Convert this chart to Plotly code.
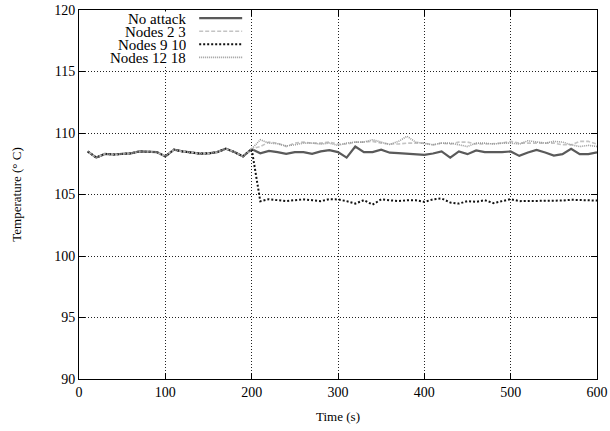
import plotly.graph_objects as go

time_s = list(range(10, 610, 10))

no_attack = [108.5, 108.0, 108.3, 108.25, 108.3, 108.35, 108.5, 108.5, 108.45, 108.1,
             108.65, 108.5, 108.4, 108.33, 108.35, 108.45, 108.72, 108.45, 108.1, 108.7,
             108.35, 108.55, 108.45, 108.3, 108.45, 108.45, 108.3, 108.5, 108.6, 108.45,
             108.0, 108.9, 108.45, 108.45, 108.65, 108.4, 108.36, 108.31, 108.28, 108.22,
             108.33, 108.5, 108.0, 108.5, 108.28, 108.58, 108.44, 108.42, 108.44, 108.5,
             108.14, 108.42, 108.63, 108.42, 108.17, 108.28, 108.72, 108.28, 108.28, 108.42]

nodes_2_3 = [108.5, 108.0, 108.3, 108.25, 108.3, 108.35, 108.5, 108.5, 108.45, 108.1,
             108.65, 108.5, 108.4, 108.33, 108.35, 108.45, 108.72, 108.45, 108.1, 108.7,
             108.9, 109.26, 109.18, 108.9, 109.18, 109.26, 109.18, 109.18, 109.26, 109.1,
             109.1, 109.26, 109.26, 109.32, 109.18, 109.1, 109.1, 109.18, 109.18, 109.18,
             109.04, 109.18, 109.1, 109.26, 109.26, 109.1, 109.1, 109.14, 109.18, 109.32,
             109.18, 109.18, 109.18, 109.18, 109.18, 109.04, 109.04, 109.32, 109.32, 109.1]

nodes_9_10 = [108.5, 108.0, 108.3, 108.25, 108.3, 108.35, 108.5, 108.5, 108.45, 108.1,
              108.65, 108.5, 108.4, 108.33, 108.35, 108.45, 108.72, 108.45, 108.1, 108.7,
              104.45, 104.62, 104.54, 104.46, 104.54, 104.6, 104.54, 104.46, 104.62, 104.6,
              104.46, 104.26, 104.54, 104.18, 104.6, 104.54, 104.46, 104.54, 104.54, 104.4,
              104.6, 104.68, 104.35, 104.26, 104.46, 104.4, 104.54, 104.3, 104.46, 104.62,
              104.46, 104.46, 104.46, 104.46, 104.46, 104.51, 104.57, 104.54, 104.51, 104.51]

nodes_12_18 = [108.5, 108.0, 108.3, 108.25, 108.3, 108.35, 108.5, 108.5, 108.45, 108.1,
               108.65, 108.5, 108.4, 108.33, 108.35, 108.45, 108.72, 108.45, 108.1, 108.7,
               109.45, 109.18, 109.13, 108.95, 109.04, 109.18, 109.18, 109.1, 109.18, 108.99,
               109.18, 109.26, 109.26, 109.45, 109.26, 109.07, 109.32, 109.73, 109.26, 109.18,
               109.04, 109.18, 109.18, 109.04, 108.9, 109.18, 109.18, 109.1, 109.18, 109.18,
               109.1, 109.37, 109.26, 109.18, 109.32, 109.26, 109.04, 108.9, 108.99, 108.9]

legend_labels = ["No attack", "Nodes 2 3", "Nodes 9 10", "Nodes 12 18"]
x_ticks = [0, 100, 200, 300, 400, 500, 600]
y_ticks = [90, 95, 100, 105, 110, 115, 120]

styles = [
    dict(color="#5a5a5a", width=2.2, dash="solid"),
    dict(color="#c4c4c4", width=1.6, dash="4px,2px"),
    dict(color="#111111", width=2.0, dash="2px,2px"),
    dict(color="#9a9a9a", width=1.6, dash="1px,1px"),
]
series = [no_attack, nodes_2_3, nodes_9_10, nodes_12_18]

fig = go.Figure()
for name, ys, st in zip(legend_labels, series, styles):
    fig.add_trace(go.Scatter(x=time_s, y=ys, mode="lines", name=name,
                             line=dict(color=st["color"], width=st["width"], dash=st["dash"]),
                             showlegend=False))

font = "Liberation Serif, Times New Roman, serif"
axis_common = dict(
    showline=True, linecolor="black", linewidth=1, mirror="allticks",
    ticks="inside", ticklen=6, tickcolor="black", tickwidth=1,
    showgrid=True, gridcolor="#222222", gridwidth=1, griddash="1px,2px",
    zeroline=False, automargin=False,
    tickfont=dict(family=font, size=14, color="black"),
)
fig.update_xaxes(range=[0, 600], tickvals=x_ticks, ticktext=[str(v) for v in x_ticks],
                 title=dict(text="Time (s)", font=dict(family=font, size=13, color="black"), standoff=13),
                 **axis_common)
fig.update_yaxes(range=[90, 120], tickvals=y_ticks, ticktext=[str(v) for v in y_ticks],
                 title=dict(text="Temperature (° C)", font=dict(family=font, size=13, color="black"), standoff=29),
                 **axis_common)

# gnuplot-style key: opaque box, text right-aligned, sample line to the right
ly0 = 0.978
dy = 0.0355
fig.add_shape(type="rect", xref="paper", yref="paper", x0=0.004, x1=0.325,
              y0=ly0 - 3 * dy - 0.022, y1=0.996, line=dict(width=0),
              fillcolor="white", layer="above")
for i, (name, st) in enumerate(zip(legend_labels, styles)):
    yy = ly0 - i * dy
    fig.add_annotation(xref="paper", yref="paper", x=0.211, y=yy, text=name, showarrow=False,
                       xanchor="right", yanchor="middle", height=13,
                       font=dict(family=font, size=15, color="black"))
    fig.add_shape(type="line", xref="paper", yref="paper", x0=0.232, x1=0.315, y0=yy, y1=yy,
                  line=dict(color=st["color"], width=st["width"], dash=st["dash"]))

fig.update_layout(
    width=610, height=431,
    margin=dict(l=79, r=13, t=10, b=52),
    paper_bgcolor="white", plot_bgcolor="white",
    font=dict(family=font, color="black"),
)

fig.write_html("out.html", config={"displayModeBar": False},
               post_script="document.body.style.margin='0';")
